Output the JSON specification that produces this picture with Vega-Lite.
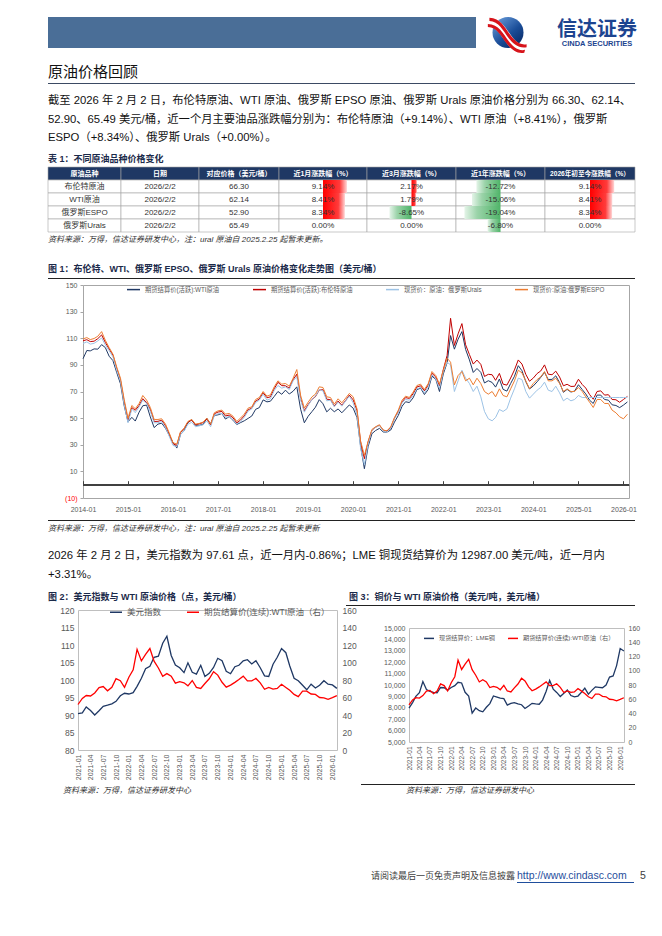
{
"$schema": "https://vega.github.io/schema/vega-lite/v6.json",
"background": "white",
"padding": {"left": 47, "top": 17, "right": 0, "bottom": 0},
"spacing": 0,
"bounds": "flush",
"resolve": {"scale": {"color": "independent"}, "legend": {"color": "independent"}},
"config": {
  "font": "Liberation Sans, Noto Sans CJK SC",
  "view": {"stroke": null},
  "concat": {"spacing": 0},
  "text": {"font": "Liberation Sans, Noto Sans CJK SC"},
  "axis": {"labelFont": "Liberation Sans, Noto Sans CJK SC"},
  "legend": {"labelFont": "Liberation Sans, Noto Sans CJK SC"}
},
"datasets": {
"oil": [
{"d":"2014-01-01","w":94.6,"b":108.1,"u":106.0,"e":109.5},
{"d":"2014-02-01","w":100.8,"b":108.9,"u":107.3,"e":110.5},
{"d":"2014-03-01","w":100.5,"b":107.5,"u":105.6,"e":109.0},
{"d":"2014-04-01","w":102.0,"b":107.8,"u":106.2,"e":109.8},
{"d":"2014-05-01","w":101.8,"b":109.7,"u":108.0,"e":111.5},
{"d":"2014-06-01","w":105.2,"b":112.5,"u":110.2,"e":115.0},
{"d":"2014-07-01","w":103.0,"b":106.9,"u":105.0,"e":108.5},
{"d":"2014-08-01","w":96.5,"b":101.9,"u":100.6,"e":103.0},
{"d":"2014-09-01","w":93.2,"b":97.3,"u":96.0,"e":98.0},
{"d":"2014-10-01","w":84.4,"b":87.3,"u":86.0,"e":88.5},
{"d":"2014-11-01","w":75.8,"b":78.4,"u":77.7,"e":80.0},
{"d":"2014-12-01","w":59.3,"b":62.3,"u":60.3,"e":64.0},
{"d":"2015-01-01","w":47.2,"b":48.1,"u":46.5,"e":50.0},
{"d":"2015-02-01","w":50.6,"b":57.9,"u":56.8,"e":59.5},
{"d":"2015-03-01","w":47.8,"b":55.9,"u":54.1,"e":57.0},
{"d":"2015-04-01","w":54.5,"b":59.5,"u":58.5,"e":61.0},
{"d":"2015-05-01","w":59.3,"b":64.6,"u":63.5,"e":67.0},
{"d":"2015-06-01","w":59.8,"b":61.7,"u":61.0,"e":63.5},
{"d":"2015-07-01","w":50.9,"b":56.5,"u":55.0,"e":58.0},
{"d":"2015-08-01","w":42.9,"b":47.5,"u":46.5,"e":49.0},
{"d":"2015-09-01","w":45.5,"b":47.6,"u":46.5,"e":49.0},
{"d":"2015-10-01","w":46.2,"b":48.4,"u":47.5,"e":49.5},
{"d":"2015-11-01","w":42.4,"b":44.3,"u":43.0,"e":45.5},
{"d":"2015-12-01","w":37.2,"b":38.0,"u":36.5,"e":39.0},
{"d":"2016-01-01","w":31.7,"b":30.8,"u":29.5,"e":31.5},
{"d":"2016-02-01","w":27.5,"b":29.5,"u":28.5,"e":30.5},
{"d":"2016-03-01","w":37.6,"b":39.1,"u":37.5,"e":39.5},
{"d":"2016-04-01","w":40.8,"b":42.3,"u":40.5,"e":42.5},
{"d":"2016-05-01","w":46.7,"b":47.1,"u":45.5,"e":47.5},
{"d":"2016-06-01","w":48.8,"b":48.5,"u":46.8,"e":49.0},
{"d":"2016-07-01","w":44.7,"b":44.9,"u":43.5,"e":45.5},
{"d":"2016-08-01","w":44.7,"b":45.8,"u":44.2,"e":46.0},
{"d":"2016-09-01","w":45.2,"b":46.6,"u":45.0,"e":47.0},
{"d":"2016-10-01","w":49.8,"b":49.5,"u":48.0,"e":50.0},
{"d":"2016-11-01","w":45.7,"b":44.8,"u":43.5,"e":45.5},
{"d":"2016-12-01","w":52.0,"b":53.3,"u":52.0,"e":54.0},
{"d":"2017-01-01","w":52.5,"b":54.6,"u":53.3,"e":55.5},
{"d":"2017-02-01","w":53.5,"b":55.0,"u":53.5,"e":56.0},
{"d":"2017-03-01","w":49.3,"b":51.6,"u":50.5,"e":53.0},
{"d":"2017-04-01","w":51.1,"b":52.3,"u":51.0,"e":53.5},
{"d":"2017-05-01","w":48.5,"b":50.3,"u":49.0,"e":51.5},
{"d":"2017-06-01","w":45.2,"b":46.4,"u":45.5,"e":47.5},
{"d":"2017-07-01","w":46.6,"b":48.5,"u":47.5,"e":50.0},
{"d":"2017-08-01","w":48.0,"b":51.7,"u":50.6,"e":53.0},
{"d":"2017-09-01","w":49.8,"b":56.2,"u":55.3,"e":57.5},
{"d":"2017-10-01","w":51.6,"b":57.5,"u":57.0,"e":58.5},
{"d":"2017-11-01","w":56.6,"b":62.7,"u":61.8,"e":64.0},
{"d":"2017-12-01","w":57.9,"b":64.4,"u":63.5,"e":65.5},
{"d":"2018-01-01","w":63.7,"b":69.1,"u":68.0,"e":70.0},
{"d":"2018-02-01","w":62.2,"b":65.3,"u":63.5,"e":66.5},
{"d":"2018-03-01","w":62.7,"b":66.0,"u":64.5,"e":67.5},
{"d":"2018-04-01","w":66.3,"b":72.1,"u":70.8,"e":73.5},
{"d":"2018-05-01","w":70.0,"b":76.9,"u":74.5,"e":78.0},
{"d":"2018-06-01","w":67.9,"b":74.4,"u":72.5,"e":75.5},
{"d":"2018-07-01","w":71.0,"b":74.3,"u":73.5,"e":76.0},
{"d":"2018-08-01","w":68.1,"b":72.5,"u":71.5,"e":74.0},
{"d":"2018-09-01","w":70.2,"b":78.9,"u":78.0,"e":80.0},
{"d":"2018-10-01","w":73.5,"b":83.0,"u":81.0,"e":86.5},
{"d":"2018-11-01","w":56.7,"b":64.8,"u":63.5,"e":67.0},
{"d":"2018-12-01","w":46.5,"b":55.5,"u":54.5,"e":57.5},
{"d":"2019-01-01","w":51.4,"b":60.2,"u":59.5,"e":62.0},
{"d":"2019-02-01","w":54.9,"b":64.0,"u":64.0,"e":66.0},
{"d":"2019-03-01","w":58.2,"b":66.1,"u":66.5,"e":68.0},
{"d":"2019-04-01","w":63.9,"b":71.2,"u":71.5,"e":73.5},
{"d":"2019-05-01","w":60.8,"b":71.3,"u":70.5,"e":73.0},
{"d":"2019-06-01","w":54.7,"b":64.2,"u":63.0,"e":66.0},
{"d":"2019-07-01","w":57.4,"b":63.9,"u":63.5,"e":65.5},
{"d":"2019-08-01","w":54.8,"b":59.0,"u":58.5,"e":60.5},
{"d":"2019-09-01","w":56.9,"b":62.8,"u":62.0,"e":64.5},
{"d":"2019-10-01","w":54.0,"b":59.7,"u":59.0,"e":61.5},
{"d":"2019-11-01","w":57.0,"b":63.2,"u":62.8,"e":65.0},
{"d":"2019-12-01","w":59.9,"b":67.3,"u":66.5,"e":68.5},
{"d":"2020-01-01","w":57.5,"b":63.7,"u":61.5,"e":66.0},
{"d":"2020-02-01","w":50.5,"b":55.7,"u":52.5,"e":57.0},
{"d":"2020-03-01","w":29.2,"b":32.0,"u":27.5,"e":33.0},
{"d":"2020-04-01","w":12.0,"b":19.5,"u":15.0,"e":22.0},
{"d":"2020-05-01","w":28.5,"b":32.0,"u":30.5,"e":32.5},
{"d":"2020-06-01","w":38.3,"b":40.8,"u":41.0,"e":41.5},
{"d":"2020-07-01","w":40.7,"b":43.2,"u":43.0,"e":43.5},
{"d":"2020-08-01","w":42.3,"b":44.7,"u":44.5,"e":45.0},
{"d":"2020-09-01","w":39.6,"b":40.9,"u":40.5,"e":41.0},
{"d":"2020-10-01","w":39.5,"b":40.2,"u":39.5,"e":40.5},
{"d":"2020-11-01","w":41.1,"b":43.0,"u":42.5,"e":43.5},
{"d":"2020-12-01","w":47.0,"b":49.9,"u":49.5,"e":50.5},
{"d":"2021-01-01","w":52.0,"b":54.8,"u":54.0,"e":56.0},
{"d":"2021-02-01","w":59.0,"b":62.3,"u":61.5,"e":63.5},
{"d":"2021-03-01","w":62.3,"b":65.4,"u":64.0,"e":66.5},
{"d":"2021-04-01","w":61.7,"b":64.8,"u":63.5,"e":65.5},
{"d":"2021-05-01","w":65.2,"b":68.3,"u":67.0,"e":69.5},
{"d":"2021-06-01","w":71.4,"b":73.4,"u":72.0,"e":74.5},
{"d":"2021-07-01","w":72.5,"b":74.3,"u":73.0,"e":75.5},
{"d":"2021-08-01","w":67.7,"b":70.5,"u":69.0,"e":71.5},
{"d":"2021-09-01","w":71.6,"b":74.9,"u":73.5,"e":76.0},
{"d":"2021-10-01","w":81.5,"b":83.7,"u":82.5,"e":85.0},
{"d":"2021-11-01","w":79.2,"b":80.9,"u":79.5,"e":82.0},
{"d":"2021-12-01","w":70.0,"b":74.2,"u":72.5,"e":75.5},
{"d":"2022-01-01","w":83.2,"b":86.5,"u":85.0,"e":86.0},
{"d":"2022-02-01","w":91.6,"b":97.1,"u":92.0,"e":95.0},
{"d":"2022-03-01","w":112.0,"b":125.0,"u":90.0,"e":92.0},
{"d":"2022-04-01","w":101.8,"b":104.6,"u":70.0,"e":75.0},
{"d":"2022-05-01","w":109.3,"b":113.3,"u":78.0,"e":82.0},
{"d":"2022-06-01","w":115.0,"b":121.0,"u":86.0,"e":85.0},
{"d":"2022-07-01","w":101.6,"b":105.1,"u":80.0,"e":78.0},
{"d":"2022-08-01","w":93.7,"b":97.7,"u":76.0,"e":80.0},
{"d":"2022-09-01","w":84.3,"b":90.6,"u":70.0,"e":75.0},
{"d":"2022-10-01","w":87.3,"b":93.6,"u":74.0,"e":80.0},
{"d":"2022-11-01","w":84.4,"b":90.4,"u":66.0,"e":76.0},
{"d":"2022-12-01","w":76.4,"b":81.3,"u":55.0,"e":70.0},
{"d":"2023-01-01","w":78.1,"b":82.9,"u":49.5,"e":68.0},
{"d":"2023-02-01","w":76.8,"b":82.6,"u":48.0,"e":70.0},
{"d":"2023-03-01","w":73.3,"b":78.4,"u":50.5,"e":66.0},
{"d":"2023-04-01","w":79.4,"b":83.6,"u":56.5,"e":72.0},
{"d":"2023-05-01","w":71.6,"b":75.5,"u":55.0,"e":67.0},
{"d":"2023-06-01","w":70.3,"b":74.8,"u":57.0,"e":66.0},
{"d":"2023-07-01","w":76.0,"b":80.1,"u":65.0,"e":72.0},
{"d":"2023-08-01","w":81.4,"b":86.2,"u":72.0,"e":78.0},
{"d":"2023-09-01","w":89.4,"b":93.7,"u":80.0,"e":86.0},
{"d":"2023-10-01","w":85.6,"b":90.6,"u":79.0,"e":84.0},
{"d":"2023-11-01","w":77.4,"b":82.9,"u":70.0,"e":78.0},
{"d":"2023-12-01","w":71.9,"b":77.7,"u":65.0,"e":72.0},
{"d":"2024-01-01","w":74.2,"b":80.1,"u":68.0,"e":76.0},
{"d":"2024-02-01","w":77.3,"b":83.5,"u":71.0,"e":79.0},
{"d":"2024-03-01","w":80.6,"b":85.4,"u":73.0,"e":81.0},
{"d":"2024-04-01","w":84.4,"b":90.0,"u":77.0,"e":85.0},
{"d":"2024-05-01","w":79.0,"b":83.0,"u":71.0,"e":78.0},
{"d":"2024-06-01","w":79.1,"b":82.6,"u":70.0,"e":78.0},
{"d":"2024-07-01","w":81.8,"b":85.3,"u":74.0,"e":80.0},
{"d":"2024-08-01","w":76.7,"b":80.9,"u":69.0,"e":76.0},
{"d":"2024-09-01","w":69.4,"b":74.3,"u":63.0,"e":70.0},
{"d":"2024-10-01","w":71.6,"b":75.4,"u":65.0,"e":72.0},
{"d":"2024-11-01","w":69.6,"b":73.8,"u":63.0,"e":70.0},
{"d":"2024-12-01","w":70.3,"b":73.9,"u":64.0,"e":70.0},
{"d":"2025-01-01","w":75.1,"b":79.2,"u":67.0,"e":73.0},
{"d":"2025-02-01","w":71.4,"b":75.2,"u":65.49,"e":70.0},
{"d":"2025-03-01","w":68.2,"b":72.6,"u":65.49,"e":66.0},
{"d":"2025-04-01","w":63.5,"b":67.8,"u":65.49,"e":62.0},
{"d":"2025-05-01","w":61.0,"b":64.2,"u":65.49,"e":58.0},
{"d":"2025-06-01","w":67.3,"b":70.0,"u":65.49,"e":64.0},
{"d":"2025-07-01","w":67.3,"b":70.5,"u":65.49,"e":64.0},
{"d":"2025-08-01","w":64.0,"b":67.3,"u":65.49,"e":61.0},
{"d":"2025-09-01","w":63.5,"b":67.6,"u":65.49,"e":61.0},
{"d":"2025-10-01","w":60.0,"b":64.0,"u":65.49,"e":56.0},
{"d":"2025-11-01","w":59.5,"b":63.8,"u":65.49,"e":54.0},
{"d":"2025-12-01","w":57.9,"b":61.9,"u":65.49,"e":51.0},
{"d":"2026-01-01","w":59.8,"b":64.0,"u":65.49,"e":49.5},
{"d":"2026-02-02","w":62.14,"b":66.3,"u":65.49,"e":52.9}
],
"macro": [
{"d":"2021-01-01","dxy":90.4,"w":52.0,"cu":7970},
{"d":"2021-02-01","dxy":90.6,"w":59.0,"cu":8460},
{"d":"2021-03-01","dxy":92.3,"w":62.3,"cu":9000},
{"d":"2021-04-01","dxy":91.3,"w":61.7,"cu":9330},
{"d":"2021-05-01","dxy":90.0,"w":65.2,"cu":10300},
{"d":"2021-06-01","dxy":91.2,"w":71.4,"cu":9610},
{"d":"2021-07-01","dxy":92.5,"w":72.5,"cu":9440},
{"d":"2021-08-01","dxy":92.8,"w":67.7,"cu":9360},
{"d":"2021-09-01","dxy":93.2,"w":71.6,"cu":9320},
{"d":"2021-10-01","dxy":93.9,"w":81.5,"cu":9780},
{"d":"2021-11-01","dxy":95.5,"w":79.2,"cu":9760},
{"d":"2021-12-01","dxy":96.2,"w":71.7,"cu":9550},
{"d":"2022-01-01","dxy":96.0,"w":83.2,"cu":9780},
{"d":"2022-02-01","dxy":96.4,"w":91.6,"cu":9940},
{"d":"2022-03-01","dxy":98.2,"w":115.0,"cu":10240},
{"d":"2022-04-01","dxy":100.5,"w":101.8,"cu":10180},
{"d":"2022-05-01","dxy":103.2,"w":109.3,"cu":9360},
{"d":"2022-06-01","dxy":103.9,"w":116.0,"cu":9030},
{"d":"2022-07-01","dxy":106.5,"w":101.6,"cu":7530},
{"d":"2022-08-01","dxy":106.8,"w":93.7,"cu":7980},
{"d":"2022-09-01","dxy":110.5,"w":84.3,"cu":7750},
{"d":"2022-10-01","dxy":112.5,"w":87.3,"cu":7650},
{"d":"2022-11-01","dxy":107.0,"w":84.4,"cu":8050},
{"d":"2022-12-01","dxy":104.3,"w":76.4,"cu":8370},
{"d":"2023-01-01","dxy":103.5,"w":78.1,"cu":9040},
{"d":"2023-02-01","dxy":102.1,"w":76.8,"cu":8940},
{"d":"2023-03-01","dxy":104.9,"w":73.3,"cu":8850},
{"d":"2023-04-01","dxy":102.2,"w":79.4,"cu":8800},
{"d":"2023-05-01","dxy":101.7,"w":71.6,"cu":8230},
{"d":"2023-06-01","dxy":104.2,"w":70.3,"cu":8390},
{"d":"2023-07-01","dxy":101.0,"w":76.0,"cu":8460},
{"d":"2023-08-01","dxy":101.9,"w":81.4,"cu":8350},
{"d":"2023-09-01","dxy":103.6,"w":89.4,"cu":8270},
{"d":"2023-10-01","dxy":106.2,"w":85.6,"cu":7940},
{"d":"2023-11-01","dxy":105.5,"w":77.4,"cu":8160},
{"d":"2023-12-01","dxy":102.5,"w":71.9,"cu":8390},
{"d":"2024-01-01","dxy":101.8,"w":74.2,"cu":8340},
{"d":"2024-02-01","dxy":103.8,"w":77.3,"cu":8310},
{"d":"2024-03-01","dxy":104.2,"w":80.6,"cu":8680},
{"d":"2024-04-01","dxy":105.5,"w":84.4,"cu":9450},
{"d":"2024-05-01","dxy":105.8,"w":79.0,"cu":10400},
{"d":"2024-06-01","dxy":104.6,"w":79.1,"cu":9640},
{"d":"2024-07-01","dxy":105.5,"w":81.8,"cu":9350},
{"d":"2024-08-01","dxy":103.5,"w":76.7,"cu":8990},
{"d":"2024-09-01","dxy":101.2,"w":69.4,"cu":9280},
{"d":"2024-10-01","dxy":101.0,"w":71.6,"cu":9560},
{"d":"2024-11-01","dxy":104.5,"w":69.6,"cu":9080},
{"d":"2024-12-01","dxy":106.5,"w":70.3,"cu":8960},
{"d":"2025-01-01","dxy":109.0,"w":75.1,"cu":9030},
{"d":"2025-02-01","dxy":107.8,"w":71.4,"cu":9380},
{"d":"2025-03-01","dxy":104.0,"w":68.2,"cu":9720},
{"d":"2025-04-01","dxy":100.5,"w":63.5,"cu":9200},
{"d":"2025-05-01","dxy":99.8,"w":61.0,"cu":9530},
{"d":"2025-06-01","dxy":98.5,"w":67.3,"cu":9840},
{"d":"2025-07-01","dxy":97.2,"w":67.3,"cu":9800},
{"d":"2025-08-01","dxy":98.8,"w":64.0,"cu":9760},
{"d":"2025-09-01","dxy":97.7,"w":63.5,"cu":10000},
{"d":"2025-10-01","dxy":98.5,"w":60.0,"cu":10700},
{"d":"2025-11-01","dxy":99.8,"w":59.5,"cu":10800},
{"d":"2025-12-01","dxy":98.8,"w":57.9,"cu":11700},
{"d":"2026-01-01","dxy":98.6,"w":59.8,"cu":13200},
{"d":"2026-02-02","dxy":97.61,"w":62.14,"cu":12987}
],
"tbl": [
{"r":0,"c":0,"t":"原油品种"},{"r":0,"c":1,"t":"日期"},{"r":0,"c":2,"t":"对应价格（美元/桶）"},{"r":0,"c":3,"t":"近1月涨跌幅（%）"},{"r":0,"c":4,"t":"近3月涨跌幅（%）"},{"r":0,"c":5,"t":"近1年涨跌幅（%）"},{"r":0,"c":6,"t":"2026年初至今涨跌幅（%）"},
{"r":1,"c":0,"t":"布伦特原油"},{"r":1,"c":1,"t":"2026/2/2"},{"r":1,"c":2,"t":"66.30"},{"r":1,"c":3,"t":"9.14%","v":9.14},{"r":1,"c":4,"t":"2.17%","v":2.17},{"r":1,"c":5,"t":"-12.72%","v":-12.72},{"r":1,"c":6,"t":"9.14%","v":9.14},
{"r":2,"c":0,"t":"WTI原油"},{"r":2,"c":1,"t":"2026/2/2"},{"r":2,"c":2,"t":"62.14"},{"r":2,"c":3,"t":"8.41%","v":8.41},{"r":2,"c":4,"t":"1.79%","v":1.79},{"r":2,"c":5,"t":"-15.06%","v":-15.06},{"r":2,"c":6,"t":"8.41%","v":8.41},
{"r":3,"c":0,"t":"俄罗斯ESPO"},{"r":3,"c":1,"t":"2026/2/2"},{"r":3,"c":2,"t":"52.90"},{"r":3,"c":3,"t":"8.34%","v":8.34},{"r":3,"c":4,"t":"-8.65%","v":-8.65},{"r":3,"c":5,"t":"-19.04%","v":-19.04},{"r":3,"c":6,"t":"8.34%","v":8.34},
{"r":4,"c":0,"t":"俄罗斯Urals"},{"r":4,"c":1,"t":"2026/2/2"},{"r":4,"c":2,"t":"65.49"},{"r":4,"c":3,"t":"0.00%","v":0},{"r":4,"c":4,"t":"0.00%","v":0},{"r":4,"c":5,"t":"-6.80%","v":-6.8},{"r":4,"c":6,"t":"0.00%","v":0}
]
},
"vconcat": [
{"hconcat": [
  {"width": 428, "height": 31, "data": {"values": []}, "mark": "point", "encoding": {}, "view": {"fill": "#4a6e97", "stroke": null}},
  {"width": 64, "height": 31, "data": {"values": [{"k": 1}]}, "layer": [
    {"mark": {"type": "point", "shape": "circle", "size": 961, "filled": true, "opacity": 1, "strokeWidth": 0, "fill": {"gradient": "linear", "x1": 0.15, "y1": 0.1, "x2": 0.85, "y2": 0.95, "stops": [{"offset": 0, "color": "#5f92d2"}, {"offset": 0.55, "color": "#1a4d98"}, {"offset": 1, "color": "#0a2a66"}]}}, "encoding": {}},
    {"mark": {"type": "point", "shape": "M -1.3 -0.98 C -0.55 -0.98 -0.2 -0.35 0.1 0.05 C 0.4 0.5 0.75 0.9 1.25 0.8 L 1.15 1.35 C 0.55 1.45 0.15 1.0 -0.15 0.6 C -0.45 0.2 -0.75 -0.45 -1.35 -0.35 Z", "size": 961, "filled": true, "opacity": 1, "strokeWidth": 0, "fill": "#ffffff"}, "encoding": {}},
    {"mark": {"type": "point", "shape": "M -1.2 -0.95 C -0.5 -0.95 -0.2 -0.3 0.1 0.1 C 0.4 0.5 0.75 0.85 1.2 0.75 L 1.2 0.95 C 0.7 1.05 0.3 0.7 0 0.3 C -0.3 -0.1 -0.6 -0.75 -1.2 -0.75 Z M -1.3 -0.55 C -0.6 -0.55 -0.3 0.1 0 0.5 C 0.3 0.9 0.65 1.22 1.1 1.12 L 1.05 1.3 C 0.6 1.4 0.2 1.08 -0.1 0.7 C -0.4 0.3 -0.7 -0.36 -1.3 -0.36 Z", "size": 961, "filled": true, "opacity": 1, "strokeWidth": 0, "fill": "#d7141b"}, "encoding": {}}
  ]},
  {"vconcat": [
    {"width": 114, "height": 26, "data": {"values": [{"t": "信达证券"}]}, "mark": {"type": "text", "fontSize": 20, "fontWeight": "bold", "color": "#1c4490", "align": "center", "baseline": "middle"}, "encoding": {"text": {"field": "t"}}},
    {"width": 114, "height": 2, "data": {"values": [{"t": "CINDA SECURITIES"}]}, "mark": {"type": "text", "fontSize": 7.5, "fontWeight": "bold", "color": "#1c4490", "align": "center", "baseline": "middle"}, "encoding": {"text": {"field": "t"}}}
  ], "spacing": 0, "bounds": "flush"}
], "spacing": 0, "bounds": "flush"},
{"width": 1, "height": 44, "data": {"values": []}, "mark": "point", "encoding": {}},
{"width": 587, "height": 22, "data": {"values": [{"i": 0, "t": "原油价格回顾"}]}, "mark": {"type": "text", "align": "left", "baseline": "middle", "fontSize": 15, "color": "#111111"}, "encoding": {"y": {"field": "i", "type": "ordinal", "axis": null}, "x": {"datum": 0, "type": "quantitative", "scale": {"domain": [0, 1]}, "axis": null}, "text": {"field": "t"}}},
{"width": 587, "height": 1, "data": {"values": []}, "mark": "point", "encoding": {}, "view": {"fill": "#3b4a63", "stroke": null}},
{"width": 1, "height": 8, "data": {"values": []}, "mark": "point", "encoding": {}},
{"width": 587, "height": 55.5, "data": {"values": [
  {"i": 0, "t": "截至 2026 年 2 月 2 日，布伦特原油、WTI 原油、俄罗斯 EPSO 原油、俄罗斯 Urals 原油价格分别为 66.30、62.14、"},
  {"i": 1, "t": "52.90、65.49 美元/桶，近一个月主要油品涨跌幅分别为：布伦特原油（+9.14%）、WTI 原油（+8.41%），俄罗斯"},
  {"i": 2, "t": "ESPO（+8.34%）、俄罗斯 Urals（+0.00%）。"}
  ]}, "mark": {"type": "text", "align": "left", "baseline": "middle", "fontSize": 11.3, "color": "#111111"}, "encoding": {"y": {"field": "i", "type": "ordinal", "axis": null}, "x": {"datum": 0, "type": "quantitative", "scale": {"domain": [0, 1]}, "axis": null}, "text": {"field": "t"}}},
{"width": 1, "height": 2.5, "data": {"values": []}, "mark": "point", "encoding": {}},
{"width": 587, "height": 16, "data": {"values": [{"i": 0, "t": "表 1：不同原油品种价格变化"}]}, "mark": {"type": "text", "align": "left", "baseline": "middle", "fontSize": 9, "fontWeight": "bold", "color": "#1b2a4a"}, "encoding": {"y": {"field": "i", "type": "ordinal", "axis": null}, "x": {"datum": 0, "type": "quantitative", "scale": {"domain": [0, 1]}, "axis": null}, "text": {"field": "t"}}},
{"hconcat": [
  {"width": 73, "height": 65, "data": {"name": "tbl"}, "transform": [{"filter": "datum.c == 0"}],
   "encoding": {"y": {"field": "r", "type": "ordinal", "axis": null, "scale": {"paddingInner": 0, "paddingOuter": 0}}},
   "layer": [
    {"mark": {"type": "rect", "stroke": "#a6a6a6", "strokeWidth": 0.6}, "encoding": {"fill": {"condition": {"test": "datum.r == 0", "value": "#1f3864"}, "value": "#ffffff"}}},
    {"transform": [{"filter": "datum.r == 0"}], "mark": {"type": "text", "fontSize": 7, "fontWeight": "bold", "color": "#ffffff"}, "encoding": {"text": {"field": "t"}}},
    {"transform": [{"filter": "datum.r > 0"}], "mark": {"type": "text", "fontSize": 8, "color": "#333333"}, "encoding": {"text": {"field": "t"}}}
   ]},
  {"width": 78, "height": 65, "data": {"name": "tbl"}, "transform": [{"filter": "datum.c == 1"}],
   "encoding": {"y": {"field": "r", "type": "ordinal", "axis": null, "scale": {"paddingInner": 0, "paddingOuter": 0}}},
   "layer": [
    {"mark": {"type": "rect", "stroke": "#a6a6a6", "strokeWidth": 0.6}, "encoding": {"fill": {"condition": {"test": "datum.r == 0", "value": "#1f3864"}, "value": "#ffffff"}}},
    {"transform": [{"filter": "datum.r == 0"}], "mark": {"type": "text", "fontSize": 7, "fontWeight": "bold", "color": "#ffffff"}, "encoding": {"text": {"field": "t"}}},
    {"transform": [{"filter": "datum.r > 0"}], "mark": {"type": "text", "fontSize": 8, "color": "#333333"}, "encoding": {"text": {"field": "t"}}}
   ]},
  {"width": 80, "height": 65, "data": {"name": "tbl"}, "transform": [{"filter": "datum.c == 2"}],
   "encoding": {"y": {"field": "r", "type": "ordinal", "axis": null, "scale": {"paddingInner": 0, "paddingOuter": 0}}},
   "layer": [
    {"mark": {"type": "rect", "stroke": "#a6a6a6", "strokeWidth": 0.6}, "encoding": {"fill": {"condition": {"test": "datum.r == 0", "value": "#1f3864"}, "value": "#ffffff"}}},
    {"transform": [{"filter": "datum.r == 0"}], "mark": {"type": "text", "fontSize": 7, "fontWeight": "bold", "color": "#ffffff"}, "encoding": {"text": {"field": "t"}}},
    {"transform": [{"filter": "datum.r > 0"}], "mark": {"type": "text", "fontSize": 8, "color": "#333333"}, "encoding": {"text": {"field": "t"}}}
   ]},
  {"width": 88, "height": 65, "data": {"name": "tbl"}, "transform": [{"filter": "datum.c == 3"}],
   "encoding": {"y": {"field": "r", "type": "ordinal", "axis": null, "scale": {"paddingInner": 0, "paddingOuter": 0}}},
   "layer": [
    {"mark": {"type": "rect", "stroke": "#a6a6a6", "strokeWidth": 0.6}, "encoding": {"fill": {"condition": {"test": "datum.r == 0", "value": "#1f3864"}, "value": "#ffffff"}}},
    {"transform": [{"filter": "datum.v > 0"}], "mark": {"type": "rect", "color": {"gradient": "linear", "x1": 0, "y1": 0, "x2": 1, "y2": 0, "stops": [{"offset": 0, "color": "#ff0000"}, {"offset": 0.7, "color": "#ff3b3b"}, {"offset": 1, "color": "#ffd6d6"}]}}, "encoding": {"x": {"field": "v", "type": "quantitative", "scale": {"domain": [-16.8, 16.8], "nice": false, "zero": false}, "axis": null}, "x2": {"datum": 0}}},
    {"transform": [{"filter": "datum.r == 0"}], "mark": {"type": "text", "fontSize": 7, "fontWeight": "bold", "color": "#ffffff"}, "encoding": {"text": {"field": "t"}}},
    {"transform": [{"filter": "datum.r > 0"}], "mark": {"type": "text", "fontSize": 8, "color": "#333333"}, "encoding": {"text": {"field": "t"}}}
   ]},
  {"width": 89, "height": 65, "data": {"name": "tbl"}, "transform": [{"filter": "datum.c == 4"}],
   "encoding": {"y": {"field": "r", "type": "ordinal", "axis": null, "scale": {"paddingInner": 0, "paddingOuter": 0}}},
   "layer": [
    {"mark": {"type": "rect", "stroke": "#a6a6a6", "strokeWidth": 0.6}, "encoding": {"fill": {"condition": {"test": "datum.r == 0", "value": "#1f3864"}, "value": "#ffffff"}}},
    {"transform": [{"filter": "datum.v > 0"}], "mark": {"type": "rect", "color": {"gradient": "linear", "x1": 0, "y1": 0, "x2": 1, "y2": 0, "stops": [{"offset": 0, "color": "#ff0000"}, {"offset": 0.7, "color": "#ff3b3b"}, {"offset": 1, "color": "#ffd6d6"}]}}, "encoding": {"x": {"field": "v", "type": "quantitative", "scale": {"domain": [-17.5, 17.5], "nice": false, "zero": false}, "axis": null}, "x2": {"datum": 0}}},
    {"transform": [{"filter": "datum.v < 0"}], "mark": {"type": "rect", "color": {"gradient": "linear", "x1": 0, "y1": 0, "x2": 1, "y2": 0, "stops": [{"offset": 0, "color": "#e4f4e8"}, {"offset": 0.35, "color": "#9bd3a9"}, {"offset": 1, "color": "#4fb468"}]}}, "encoding": {"x": {"field": "v", "type": "quantitative"}, "x2": {"datum": 0}}},
    {"mark": {"type": "rule", "strokeDash": [1, 1], "color": "#000000", "strokeWidth": 0.8}, "encoding": {"x": {"datum": 0, "type": "quantitative"}}},
    {"transform": [{"filter": "datum.r == 0"}], "mark": {"type": "text", "fontSize": 7, "fontWeight": "bold", "color": "#ffffff"}, "encoding": {"text": {"field": "t"}}},
    {"transform": [{"filter": "datum.r > 0"}], "mark": {"type": "text", "fontSize": 8, "color": "#333333"}, "encoding": {"text": {"field": "t"}}}
   ]},
  {"width": 89, "height": 65, "data": {"name": "tbl"}, "transform": [{"filter": "datum.c == 5"}],
   "encoding": {"y": {"field": "r", "type": "ordinal", "axis": null, "scale": {"paddingInner": 0, "paddingOuter": 0}}},
   "layer": [
    {"mark": {"type": "rect", "stroke": "#a6a6a6", "strokeWidth": 0.6}, "encoding": {"fill": {"condition": {"test": "datum.r == 0", "value": "#1f3864"}, "value": "#ffffff"}}},
    {"transform": [{"filter": "datum.v < 0"}], "mark": {"type": "rect", "color": {"gradient": "linear", "x1": 0, "y1": 0, "x2": 1, "y2": 0, "stops": [{"offset": 0, "color": "#e4f4e8"}, {"offset": 0.35, "color": "#9bd3a9"}, {"offset": 1, "color": "#4fb468"}]}}, "encoding": {"x": {"field": "v", "type": "quantitative", "scale": {"domain": [-23.5, 23.5], "nice": false, "zero": false}, "axis": null}, "x2": {"datum": 0}}},
    {"mark": {"type": "rule", "strokeDash": [1, 1], "color": "#000000", "strokeWidth": 0.8}, "encoding": {"x": {"datum": 0, "type": "quantitative"}}},
    {"transform": [{"filter": "datum.r == 0"}], "mark": {"type": "text", "fontSize": 7, "fontWeight": "bold", "color": "#ffffff"}, "encoding": {"text": {"field": "t"}}},
    {"transform": [{"filter": "datum.r > 0"}], "mark": {"type": "text", "fontSize": 8, "color": "#333333"}, "encoding": {"text": {"field": "t"}}}
   ]},
  {"width": 90, "height": 65, "data": {"name": "tbl"}, "transform": [{"filter": "datum.c == 6"}],
   "encoding": {"y": {"field": "r", "type": "ordinal", "axis": null, "scale": {"paddingInner": 0, "paddingOuter": 0}}},
   "layer": [
    {"mark": {"type": "rect", "stroke": "#a6a6a6", "strokeWidth": 0.6}, "encoding": {"fill": {"condition": {"test": "datum.r == 0", "value": "#1f3864"}, "value": "#ffffff"}}},
    {"transform": [{"filter": "datum.v > 0"}], "mark": {"type": "rect", "color": {"gradient": "linear", "x1": 0, "y1": 0, "x2": 1, "y2": 0, "stops": [{"offset": 0, "color": "#ff0000"}, {"offset": 0.7, "color": "#ff3b3b"}, {"offset": 1, "color": "#ffd6d6"}]}}, "encoding": {"x": {"field": "v", "type": "quantitative", "scale": {"domain": [-17, 17], "nice": false, "zero": false}, "axis": null}, "x2": {"datum": 0}}},
    {"transform": [{"filter": "datum.r == 0"}], "mark": {"type": "text", "fontSize": 6.6, "fontWeight": "bold", "color": "#ffffff"}, "encoding": {"text": {"field": "t"}}},
    {"transform": [{"filter": "datum.r > 0"}], "mark": {"type": "text", "fontSize": 8, "color": "#333333"}, "encoding": {"text": {"field": "t"}}}
   ]}
], "spacing": 0, "bounds": "flush"},
{"width": 1, "height": 65, "data": {"values": []}, "mark": "point", "encoding": {}},
{"width": 587, "height": 16, "data": {"values": [{"i": 0, "t": "资料来源：万得，信达证券研发中心，注：ural 原油自 2025.2.25 起暂未更新。"}]}, "mark": {"type": "text", "align": "left", "baseline": "middle", "fontSize": 8, "fontStyle": "italic", "color": "#333333"}, "encoding": {"y": {"field": "i", "type": "ordinal", "axis": null}, "x": {"datum": 0, "type": "quantitative", "scale": {"domain": [0, 1]}, "axis": null}, "text": {"field": "t"}}},
{"width": 1, "height": 11, "data": {"values": []}, "mark": "point", "encoding": {}},
{"width": 587, "height": 19, "data": {"values": [{"i": 0, "t": "图 1：布伦特、WTI、俄罗斯 EPSO、俄罗斯 Urals 原油价格变化走势图（美元/桶）"}]}, "mark": {"type": "text", "align": "left", "baseline": "middle", "fontSize": 9, "fontWeight": "bold", "color": "#1b2a4a"}, "encoding": {"y": {"field": "i", "type": "ordinal", "axis": null}, "x": {"datum": 0, "type": "quantitative", "scale": {"domain": [0, 1]}, "axis": null}, "text": {"field": "t"}}},
{"width": 587, "height": 1, "data": {"values": []}, "mark": "point", "encoding": {}, "view": {"fill": "#222222", "stroke": null}},
{"width": 1, "height": 5.5, "data": {"values": []}, "mark": "point", "encoding": {}},
{"hconcat": [
  {"width": 35, "height": 10, "data": {"values": []}, "mark": "point", "encoding": {}},
  {"width": 546, "height": 213, "view": {"stroke": "#a6a6a6", "strokeWidth": 1},
   "data": {"name": "oil"},
   "layer": [
    {"transform": [{"fold": ["w", "b", "u", "e"], "as": ["k", "v"]}],
     "mark": {"type": "line", "strokeWidth": 1},
     "encoding": {
       "x": {"field": "d", "type": "temporal", "scale": {"domain": [{"year": 2014, "month": 1, "date": 1}, {"year": 2026, "month": 2, "date": 15}], "nice": false},
         "axis": {"title": null, "format": "%Y-%m", "tickCount": {"interval": "year", "step": 1}, "labelFontSize": 7, "labelColor": "#595959", "offset": -13.3, "labelPadding": 25, "tickSize": -4, "tickColor": "#404040", "domainColor": "#404040", "grid": false, "labelFlush": false, "labelOverlap": false}},
       "y": {"field": "v", "type": "quantitative", "scale": {"domain": [-10, 150], "nice": false, "zero": false},
         "axis": {"title": null, "values": [-10, 10, 30, 50, 70, 90, 110, 130, 150], "labelOverlap": false, "labelExpr": "datum.value < 0 ? '(' + format(-datum.value, 'd') + ')' : format(datum.value, 'd')", "labelColor": {"condition": {"test": "datum.value < 0", "value": "#ff0000"}, "value": "#595959"}, "labelFontSize": 7, "domain": false, "tickSize": 3, "tickColor": "#a6a6a6", "grid": false, "labelPadding": 3}},
       "color": {"field": "k", "type": "nominal", "scale": {"domain": ["w", "b", "u", "e"], "range": ["#1f3864", "#c00000", "#9dc3e6", "#ed7d31"]},
         "legend": {"orient": "none", "legendX": 43, "legendY": -3, "direction": "horizontal", "title": null, "symbolType": "stroke", "symbolSize": 169, "symbolStrokeWidth": 1.5, "labelFontSize": 6.3, "labelColor": "#595959", "columnPadding": 30,
           "labelExpr": "datum.label == 'w' ? '期货结算价(活跃):WTI原油' : datum.label == 'b' ? '期货结算价(活跃):布伦特原油' : datum.label == 'u' ? '现货价：原油：俄罗斯Urals' : '现货价:原油:俄罗斯ESPO'"}}
     }},
    {"mark": {"type": "rule", "color": "#404040", "strokeWidth": 1}, "encoding": {"y": {"datum": 0, "type": "quantitative", "scale": {"domain": [-10, 150], "nice": false, "zero": false}, "axis": null}}}
   ],
   "resolve": {"scale": {"y": "independent"}, "axis": {"y": "independent"}}}
], "spacing": 0, "bounds": "flush", "resolve": {"scale": {"color": "independent"}, "legend": {"color": "independent"}}},
{"width": 1, "height": 234.5, "data": {"values": []}, "mark": "point", "encoding": {}},
{"width": 587, "height": 1, "data": {"values": []}, "mark": "point", "encoding": {}, "view": {"fill": "#222222", "stroke": null}},
{"width": 587, "height": 16, "data": {"values": [{"i": 0, "t": "资料来源：万得，信达证券研发中心，注：ural 原油自 2025.2.25 起暂未更新"}]}, "mark": {"type": "text", "align": "left", "baseline": "middle", "fontSize": 8, "fontStyle": "italic", "color": "#333333"}, "encoding": {"y": {"field": "i", "type": "ordinal", "axis": null}, "x": {"datum": 0, "type": "quantitative", "scale": {"domain": [0, 1]}, "axis": null}, "text": {"field": "t"}}},
{"width": 1, "height": 8.5, "data": {"values": []}, "mark": "point", "encoding": {}},
{"width": 587, "height": 38, "data": {"values": [
  {"i": 0, "t": "2026 年 2 月 2 日，美元指数为 97.61 点，近一月内-0.86%；LME 铜现货结算价为 12987.00 美元/吨，近一月内"},
  {"i": 1, "t": "+3.31%。"}
  ]}, "mark": {"type": "text", "align": "left", "baseline": "middle", "fontSize": 11.3, "color": "#111111"}, "encoding": {"y": {"field": "i", "type": "ordinal", "axis": null}, "x": {"datum": 0, "type": "quantitative", "scale": {"domain": [0, 1]}, "axis": null}, "text": {"field": "t"}}},
{"width": 1, "height": 4.5, "data": {"values": []}, "mark": "point", "encoding": {}},
{"hconcat": [
  {"width": 301, "height": 16, "data": {"values": [{"i": 0, "t": "图 2：美元指数与 WTI 原油价格（点，美元/桶）"}]}, "mark": {"type": "text", "align": "left", "baseline": "middle", "fontSize": 9, "fontWeight": "bold", "color": "#1b2a4a"}, "encoding": {"y": {"field": "i", "type": "ordinal", "axis": null}, "x": {"datum": 0, "type": "quantitative", "scale": {"domain": [0, 1]}, "axis": null}, "text": {"field": "t"}}},
  {"width": 286, "height": 16, "data": {"values": [{"i": 0, "t": "图 3：铜价与 WTI 原油价格（美元/吨，美元/桶）"}]}, "mark": {"type": "text", "align": "left", "baseline": "middle", "fontSize": 9, "fontWeight": "bold", "color": "#1b2a4a"}, "encoding": {"y": {"field": "i", "type": "ordinal", "axis": null}, "x": {"datum": 0, "type": "quantitative", "scale": {"domain": [0, 1]}, "axis": null}, "text": {"field": "t"}}}
], "spacing": 0, "bounds": "flush"},
{"width": 1, "height": 16, "data": {"values": []}, "mark": "point", "encoding": {}},
{"hconcat": [
  {"width": 298, "height": 1, "data": {"values": []}, "mark": "point", "encoding": {}},
  {"width": 289, "height": 1, "data": {"values": []}, "mark": "point", "encoding": {}, "view": {"fill": "#222222", "stroke": null}}
], "spacing": 0, "bounds": "flush"},
{"width": 1, "height": 5, "data": {"values": []}, "mark": "point", "encoding": {}},
{"hconcat": [
  {"width": 30, "height": 10, "data": {"values": []}, "mark": "point", "encoding": {}},
  {"width": 259, "height": 140, "view": {"stroke": "#bfbfbf"}, "data": {"name": "macro"},
   "encoding": {"x": {"field": "d", "type": "temporal", "scale": {"domain": [{"year": 2021, "month": 1, "date": 1}, {"year": 2026, "month": 2, "date": 3}], "nice": false},
     "axis": {"title": null, "format": "%Y-%m", "tickCount": {"interval": "month", "step": 3}, "labelAngle": 270, "labelFontSize": 7, "labelColor": "#595959", "domain": false, "ticks": false, "grid": false, "labelPadding": 4, "labelFlush": false, "labelOverlap": false}}},
   "layer": [
     {"mark": {"type": "line", "strokeWidth": 1.3}, "encoding": {
       "y": {"field": "dxy", "type": "quantitative", "scale": {"domain": [80, 120], "nice": false, "zero": false}, "axis": {"title": null, "values": [80, 85, 90, 95, 100, 105, 110, 115, 120], "labelOverlap": false, "labelFontSize": 8.5, "labelColor": "#595959", "domain": false, "ticks": false, "grid": false, "labelPadding": 4}},
       "color": {"datum": "美元指数", "type": "nominal", "scale": {"domain": ["美元指数", "期货结算价(连续):WTI原油（右）"], "range": ["#1f3864", "#ff0000"]},
         "legend": {"orient": "none", "legendX": 31, "legendY": -5, "direction": "horizontal", "title": null, "symbolType": "stroke", "symbolSize": 144, "symbolStrokeWidth": 1.5, "labelFontSize": 8.5, "labelColor": "#595959", "columnPadding": 22}}}},
     {"mark": {"type": "line", "strokeWidth": 1.3}, "encoding": {
       "y": {"field": "w", "type": "quantitative", "scale": {"domain": [0, 160], "nice": false}, "axis": {"orient": "right", "title": null, "values": [0, 20, 40, 60, 80, 100, 120, 140, 160], "labelOverlap": false, "labelFontSize": 8.5, "labelColor": "#595959", "domain": false, "ticks": false, "grid": false, "labelPadding": 5}},
       "color": {"datum": "期货结算价(连续):WTI原油（右）", "type": "nominal"}}}
   ],
   "resolve": {"scale": {"y": "independent"}}},
  {"width": 72, "height": 10, "data": {"values": []}, "mark": "point", "encoding": {}},
  {"vconcat": [
    {"width": 1, "height": 18, "data": {"values": []}, "mark": "point", "encoding": {}},
    {"width": 215, "height": 114, "view": {"stroke": "#bfbfbf"}, "data": {"name": "macro"},
     "encoding": {"x": {"field": "d", "type": "temporal", "scale": {"domain": [{"year": 2021, "month": 1, "date": 1}, {"year": 2026, "month": 2, "date": 3}], "nice": false},
       "axis": {"title": null, "format": "%Y-%m", "tickCount": {"interval": "month", "step": 3}, "labelAngle": 270, "labelFontSize": 6.5, "labelColor": "#595959", "domain": false, "ticks": false, "grid": false, "labelPadding": 4, "labelFlush": false, "labelOverlap": false}}},
     "layer": [
       {"mark": {"type": "line", "strokeWidth": 1.3}, "encoding": {
         "y": {"field": "cu", "type": "quantitative", "scale": {"domain": [5000, 15000], "nice": false, "zero": false}, "axis": {"title": null, "values": [5000, 6000, 7000, 8000, 9000, 10000, 11000, 12000, 13000, 14000, 15000], "labelOverlap": false, "format": ",d", "labelFontSize": 7, "labelColor": "#595959", "domain": false, "ticks": false, "grid": false, "labelPadding": 4}},
         "color": {"datum": "现货结算价：LME铜", "type": "nominal", "scale": {"domain": ["现货结算价：LME铜", "期货结算价(连续):WTI原油（右）"], "range": ["#1f3864", "#ff0000"]},
           "legend": {"orient": "none", "legendX": 14, "legendY": 4, "direction": "horizontal", "title": null, "symbolType": "stroke", "symbolSize": 100, "symbolStrokeWidth": 1.5, "labelFontSize": 6.2, "labelColor": "#595959", "columnPadding": 9}}}},
       {"mark": {"type": "line", "strokeWidth": 1.3}, "encoding": {
         "y": {"field": "w", "type": "quantitative", "scale": {"domain": [0, 160], "nice": false}, "axis": {"orient": "right", "title": null, "values": [0, 20, 40, 60, 80, 100, 120, 140, 160], "labelOverlap": false, "labelFontSize": 7, "labelColor": "#595959", "domain": false, "ticks": false, "grid": false, "labelPadding": 4}},
         "color": {"datum": "期货结算价(连续):WTI原油（右）", "type": "nominal"}}}
     ],
     "resolve": {"scale": {"y": "independent"}}}
  ], "spacing": 0, "bounds": "flush", "resolve": {"scale": {"color": "independent"}, "legend": {"color": "independent"}}}
], "spacing": 0, "bounds": "flush", "resolve": {"scale": {"color": "independent"}, "legend": {"color": "independent"}}},
{"width": 1, "height": 174, "data": {"values": []}, "mark": "point", "encoding": {}},
{"hconcat": [
  {"width": 313, "height": 1, "data": {"values": []}, "mark": "point", "encoding": {}},
  {"width": 274, "height": 1, "data": {"values": []}, "mark": "point", "encoding": {}, "view": {"fill": "#222222", "stroke": null}}
], "spacing": 0, "bounds": "flush"},
{"width": 1, "height": 1, "data": {"values": []}, "mark": "point", "encoding": {}},
{"hconcat": [
  {"width": 15, "height": 12, "data": {"values": []}, "mark": "point", "encoding": {}},
  {"width": 343, "height": 12, "data": {"values": [{"i": 0, "t": "资料来源：万得，信达证券研发中心"}]}, "mark": {"type": "text", "align": "left", "baseline": "middle", "fontSize": 8, "fontStyle": "italic", "color": "#333333"}, "encoding": {"y": {"field": "i", "type": "ordinal", "axis": null}, "x": {"datum": 0, "type": "quantitative", "scale": {"domain": [0, 1]}, "axis": null}, "text": {"field": "t"}}},
  {"width": 229, "height": 12, "data": {"values": [{"i": 0, "t": "资料来源：万得，信达证券研发中心"}]}, "mark": {"type": "text", "align": "left", "baseline": "middle", "fontSize": 8, "fontStyle": "italic", "color": "#333333"}, "encoding": {"y": {"field": "i", "type": "ordinal", "axis": null}, "x": {"datum": 0, "type": "quantitative", "scale": {"domain": [0, 1]}, "axis": null}, "text": {"field": "t"}}}
], "spacing": 0, "bounds": "flush"},
{"width": 1, "height": 84, "data": {"values": []}, "mark": "point", "encoding": {}},
{"hconcat": [
  {"width": 323, "height": 14, "data": {"values": []}, "mark": "point", "encoding": {}},
  {"width": 146, "height": 14, "data": {"values": [{"i": 0, "t": "请阅读最后一页免责声明及信息披露"}]}, "mark": {"type": "text", "align": "left", "baseline": "middle", "fontSize": 9, "color": "#404040"}, "encoding": {"y": {"field": "i", "type": "ordinal", "axis": null}, "x": {"datum": 0, "type": "quantitative", "scale": {"domain": [0, 1]}, "axis": null}, "text": {"field": "t"}}},
  {"vconcat": [
    {"width": 121, "height": 13, "data": {"values": [{"i": 0, "t": "http://www.cindasc.com"}]}, "mark": {"type": "text", "align": "left", "baseline": "middle", "fontSize": 10.5, "color": "#1f4e9c"}, "encoding": {"y": {"field": "i", "type": "ordinal", "axis": null}, "x": {"datum": 0, "type": "quantitative", "scale": {"domain": [0, 1]}, "axis": null}, "text": {"field": "t"}}},
    {"width": 117, "height": 1, "data": {"values": []}, "mark": "point", "encoding": {}, "view": {"fill": "#1f4e9c", "stroke": null}}
  ], "spacing": 0, "bounds": "flush"},
  {"width": 121, "height": 14, "data": {"values": []}, "mark": "point", "encoding": {}},
  {"width": 10, "height": 14, "data": {"values": [{"t": "5"}]}, "mark": {"type": "text", "align": "center", "baseline": "middle", "fontSize": 10.5, "color": "#404040"}, "encoding": {"text": {"field": "t"}}}
], "spacing": 0, "bounds": "flush"},
{"width": 1, "height": 14, "data": {"values": []}, "mark": "point", "encoding": {}}
]
}
